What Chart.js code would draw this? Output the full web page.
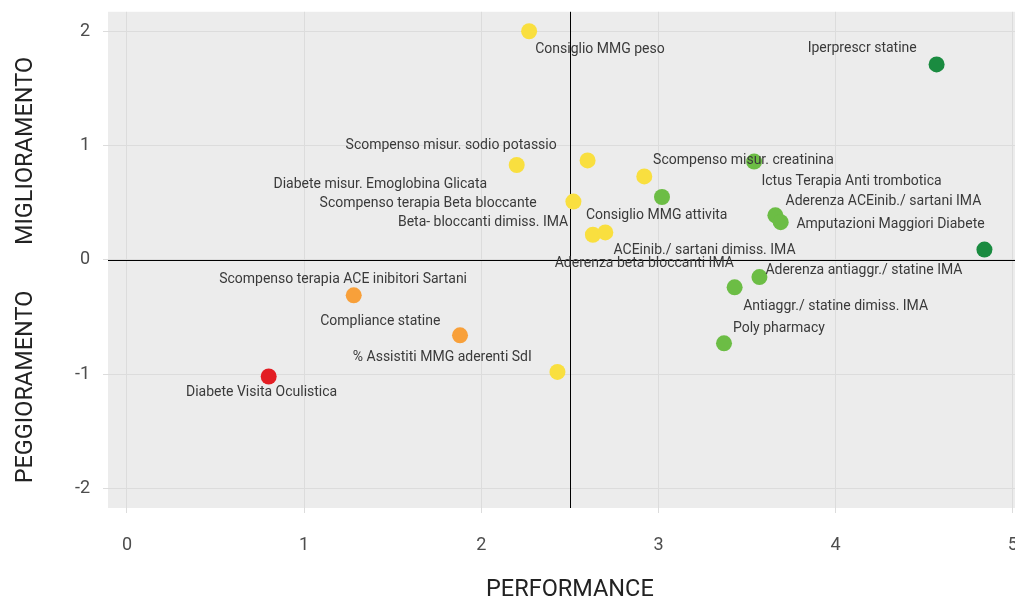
<!DOCTYPE html>
<html lang="it">
<head>
<meta charset="utf-8">
<title>Performance / Miglioramento</title>
<script src="https://cdn.jsdelivr.net/npm/chart.js@4.4.1/dist/chart.umd.min.js"></script>
<style>
  html, body { margin: 0; padding: 0; background: #fff; overflow: hidden; }
  /* il grafico originale è ritagliato in alto e a destra */
  #wrap { width: 1040px; height: 613px; margin-top: -12px; }
</style>
</head>
<body>
<div id="wrap"><canvas id="grafico" width="1040" height="613"></canvas></div>
<script>
/* ---------------- dati ---------------- */
const indicatori = [
  "Consiglio MMG peso", "Iperprescr statine", "Scompenso misur. sodio potassio",
  "Diabete misur. Emoglobina Glicata", "Consiglio MMG attivita", "Ictus Terapia Anti trombotica",
  "Scompenso terapia Beta bloccante", "Beta- bloccanti dimiss. IMA", "ACEinib./ sartani dimiss. IMA",
  "Scompenso misur. creatinina", "Aderenza ACEinib./ sartani IMA", "Amputazioni Maggiori Diabete",
  "Aderenza antiaggr./ statine IMA", "Antiaggr./ statine dimiss. IMA", "Poly pharmacy",
  "Aderenza beta bloccanti IMA", "Scompenso terapia ACE inibitori Sartani", "Compliance statine",
  "Diabete Visita Oculistica", "% Assistiti MMG aderenti SdI",
];
// PERFORMANCE (asse x)
const performance = [
  2.27, 4.57, 2.20, 2.60, 2.92, 3.02, 2.52, 2.63, 2.70, 3.54,
  3.66, 3.69, 3.57, 3.43, 3.37, 4.84, 1.28, 1.88, 0.80, 2.43,
];
// MIGLIORAMENTO / PEGGIORAMENTO (asse y)
const variazione = [
  2.00, 1.71, 0.83, 0.87, 0.73, 0.55, 0.51, 0.22, 0.24, 0.86,
  0.39, 0.33, -0.15, -0.24, -0.73, 0.09, -0.31, -0.66, -1.02, -0.98,
];
// posizione delle etichette (unità dei dati, come ggrepel)
const etichettaX = [
  2.67, 4.15, 1.83, 1.43, 2.99, 4.09, 1.70, 2.01, 3.26, 3.48,
  4.27, 4.31, 4.16, 4.00, 3.68, 2.92, 1.22, 1.43, 0.76, 1.78,
];
const etichettaY = [
  1.84, 1.85, 1.00, 0.66, 0.39, 0.69, 0.49, 0.33, 0.08, 0.87,
  0.51, 0.31, -0.09, -0.41, -0.60, -0.03, -0.17, -0.54, -1.16, -0.85,
];
const tickX = [0, 1, 2, 3, 4, 5];
const tickY = [-2, -1, 0, 1, 2];
const soglia = { x: 2.5, y: 0 };
const limitiX = [-0.107, 5.107];
const limitiY = [-2.17, 2.17];

// colore per fascia di performance: 0-1 rosso ... 4-5 verde scuro
const FASCE = ["#e31d23", "#f8a03a", "#f9df3f", "#6cbd45", "#1a8b40"];
const colore = (x) => FASCE[Math.min(4, Math.max(0, Math.floor(x)))];

const FONT = "Roboto, 'Noto Sans', sans-serif";
const OFFSET = 12; // parte del canvas nascosta sopra la finestra

/* ---------------- plugin: pannello, linee, etichette, titoli ---------------- */
const decorazioni = {
  id: "decorazioni",
  beforeDraw(chart) {
    const { ctx, chartArea: a } = chart;
    ctx.save();
    ctx.fillStyle = "#ececec";
    ctx.fillRect(a.left, a.top, a.right - a.left, a.bottom - a.top);
    ctx.restore();
  },
  beforeDatasetsDraw(chart) {
    const { ctx, chartArea: a, scales: { x, y } } = chart;
    ctx.save();
    ctx.strokeStyle = "#000";
    ctx.lineWidth = 1;
    const px = Math.round(x.getPixelForValue(soglia.x)) + 0.5;
    const py = Math.round(y.getPixelForValue(soglia.y)) + 0.5;
    ctx.beginPath();
    ctx.moveTo(px, a.top); ctx.lineTo(px, a.bottom);
    ctx.moveTo(a.left, py); ctx.lineTo(a.right, py);
    ctx.stroke();
    ctx.restore();
  },
  afterDatasetsDraw(chart) {
    const { ctx, scales: { x, y } } = chart;
    ctx.save();
    ctx.font = "14px " + FONT;
    ctx.fillStyle = "#3a3a3a";
    ctx.textAlign = "center";
    ctx.textBaseline = "middle";
    indicatori.forEach((t, i) => {
      ctx.fillText(t, x.getPixelForValue(etichettaX[i]), y.getPixelForValue(etichettaY[i]));
    });
    ctx.restore();
  },
  afterDraw(chart) {
    const { ctx, chartArea: a } = chart;
    ctx.save();
    ctx.fillStyle = "#222";
    ctx.font = "23.5px " + FONT;
    ctx.textAlign = "center";
    ctx.textBaseline = "middle";
    ctx.fillText("PERFORMANCE", (a.left + a.right) / 2, 590 + OFFSET);
    ctx.translate(26, 0);
    ctx.rotate(-Math.PI / 2);
    ctx.fillText("MIGLIORAMENTO", -(151 + OFFSET), 0);
    ctx.fillText("PEGGIORAMENTO", -(387 + OFFSET), 0);
    ctx.restore();
  },
};

/* ---------------- grafico ---------------- */
new Chart(document.getElementById("grafico"), {
  type: "scatter",
  data: {
    datasets: [{
      data: performance.map((v, i) => ({ x: v, y: variazione[i] })),
      backgroundColor: performance.map(colore),
      borderWidth: 0,
      pointRadius: 8,
      pointHoverRadius: 8,
    }],
  },
  options: {
    responsive: false,
    animation: false,
    layout: { padding: { left: 0, top: 0, right: 8, bottom: 0 } },
    plugins: { legend: { display: false }, tooltip: { enabled: false } },
    scales: {
      x: {
        type: "linear", min: limitiX[0], max: limitiX[1],
        afterBuildTicks: (s) => { s.ticks = tickX.map((v) => ({ value: v })); },
        afterFit: (s) => { s.height = 93; },
        grid: { color: "#dcdcdc", lineWidth: 1, tickLength: 5, tickColor: "#dcdcdc" },
        border: { display: false },
        ticks: { padding: 22, color: "#4d4d4d", font: { family: FONT, size: 18 } },
      },
      y: {
        type: "linear", min: limitiY[0], max: limitiY[1],
        afterBuildTicks: (s) => { s.ticks = tickY.map((v) => ({ value: v })); },
        afterFit: (s) => { s.width = 108; },
        grid: { color: "#dcdcdc", lineWidth: 1, tickLength: 5, tickColor: "#dcdcdc" },
        border: { display: false },
        ticks: { padding: 13, color: "#4d4d4d", font: { family: FONT, size: 18 } },
      },
    },
  },
  plugins: [decorazioni],
});
</script>
</body>
</html>
